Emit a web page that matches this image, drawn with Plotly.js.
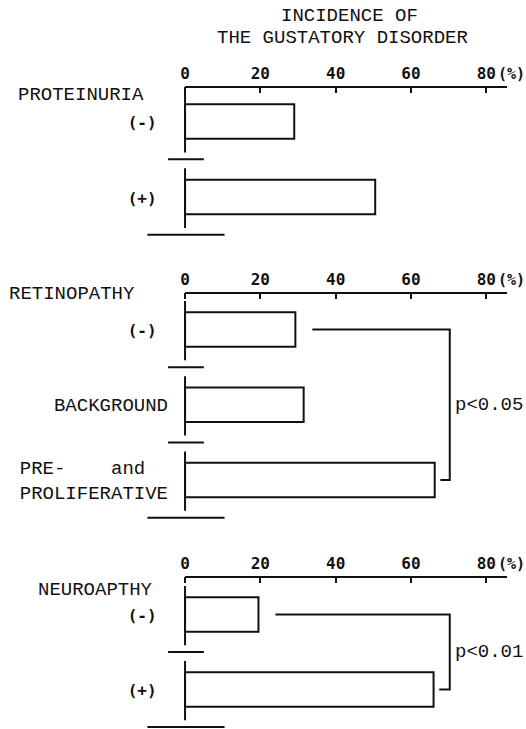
<!DOCTYPE html>
<html><head><meta charset="utf-8">
<script src="https://cdn.plot.ly/plotly-3.0.1.min.js"></script>
<style>html,body{margin:0;padding:0;background:#fff}</style>
</head><body><div id="chart" style="width:526px;height:729px"></div>
<script>
// ---- data ----
const chartTitleLines = ["INCIDENCE OF", "THE GUSTATORY DISORDER"];
const groupTitles = ["PROTEINURIA", "RETINOPATHY", "NEUROAPTHY"];
const proteinuriaCategories = ["(-)", "(+)"];
const proteinuriaValues = [29, 50.5];
const retinopathyCategories = ["(-)", "BACKGROUND", "PRE- and PROLIFERATIVE"];
const retinopathyValues = [29.3, 31.5, 66.3];
const neuropathyCategories = ["(-)", "(+)"];
const neuropathyValues = [19.5, 66];
const significance = ["", "p<0.05", "p<0.01"];
const tickValues = [0, 20, 40, 60, 80];
const tickLabels = ["0", "20", "40", "60", "80"];
const axisUnit = "(%)";

// ---- styling / layout ----
const W = 526, H = 729;
const INK = '#111111';
const MONO = 'Liberation Mono, Courier New, monospace';
const BOLDF = 'DejaVu Sans Mono, monospace';
const X_RANGE = [-10.5, 85.5];
const X_DOMAIN = [145.5 / W, 507 / W];
const BRACKET_X = 70.3;

function displayLabel(c) {
  if (c.charAt(0) === '(') {
    return '<span style="font-family:DejaVu Sans Mono;font-weight:bold;font-size:16px">' + c + '</span>\u00a0';
  }
  if (c.indexOf(' and ') >= 0) {
    const parts = c.split(' and ');
    return parts[0] + '\u00a0\u00a0\u00a0\u00a0and\u00a0\u00a0<br>' + parts[1];
  }
  return c;
}

const panels = [
  {cats: proteinuriaCategories, vals: proteinuriaValues, title: groupTitles[0], p: significance[0],
   topPx: 87, firstPx: 34.5, unitPx: 75.5, botPx: 242, titleX: 16, titleDy: 8},
  {cats: retinopathyCategories, vals: retinopathyValues, title: groupTitles[1], p: significance[1],
   topPx: 293, firstPx: 36.5, unitPx: 75.25, botPx: 525, titleX: 7, titleDy: 1},
  {cats: neuropathyCategories, vals: neuropathyValues, title: groupTitles[2], p: significance[2],
   topPx: 577, firstPx: 37.5, unitPx: 75, botPx: 729, titleX: 36, titleDy: 13}
];

const traces = [];
const shapes = [];
const annotations = [];
const layout = {
  width: W, height: H, autosize: false,
  margin: {l: 0, r: 0, t: 0, b: 0, pad: 0},
  paper_bgcolor: '#fff', plot_bgcolor: 'rgba(0,0,0,0)',
  showlegend: false,
  font: {family: MONO, color: INK, size: 19}
};

// title lines
const titleCenters = [[349, 16], [342, 37.5]];
chartTitleLines.forEach((t, i) => {
  annotations.push({xref: 'paper', yref: 'paper', x: titleCenters[i][0] / W, y: 1 - titleCenters[i][1] / H,
    xanchor: 'center', yanchor: 'middle', showarrow: false, text: t,
    font: {family: MONO, size: 19, color: INK}});
});

panels.forEach((pn, k) => {
  const s = k === 0 ? '' : String(k + 1);
  const xId = 'x' + s, yId = 'y' + s;
  const n = pn.cats.length;
  const rTop = -pn.firstPx / pn.unitPx;
  const rBot = rTop + (pn.botPx - pn.topPx) / pn.unitPx;

  layout['xaxis' + s] = {
    range: X_RANGE, domain: X_DOMAIN, anchor: yId, side: 'top',
    tickmode: 'array', tickvals: tickValues, ticktext: tickLabels,
    ticks: 'inside', ticklen: 6, tickwidth: 2, tickcolor: INK,
    tickfont: {family: BOLDF, size: 16, weight: 'bold', color: INK},
    ticklabelstandoff: 4,
    showgrid: false, zeroline: false, showline: false, fixedrange: true
  };
  layout['yaxis' + s] = {
    type: 'category', categoryorder: 'array', categoryarray: pn.cats,
    range: [rBot, rTop], domain: [1 - pn.botPx / H, 1 - pn.topPx / H],
    anchor: 'free', position: 168 / W,
    tickmode: 'array', tickvals: pn.cats, ticktext: pn.cats.map(displayLabel),
    ticks: '', tickfont: {family: MONO, size: 19, color: INK},
    showgrid: false, zeroline: false, showline: false, fixedrange: true
  };

  traces.push({
    type: 'bar', orientation: 'h', x: pn.vals, y: pn.cats,
    xaxis: xId, yaxis: yId, width: 0.46,
    marker: {color: '#ffffff', line: {color: INK, width: 2}},
    hoverinfo: 'x+y'
  });

  // top axis line from 0 to end
  shapes.push({type: 'line', xref: xId, yref: yId + ' domain', x0: 0, x1: X_RANGE[1], y0: 1, y1: 1,
    line: {color: INK, width: 2}});
  // base segments and separators
  pn.cats.forEach((c, i) => {
    shapes.push({type: 'line', xref: xId, yref: yId, x0: 0, x1: 0, y0: i - 0.38, y1: i + 0.41,
      line: {color: INK, width: 2}});
    const last = i === n - 1;
    shapes.push({type: 'line', xref: xId, yref: yId,
      x0: last ? -10 : -4.5, x1: last ? 10.5 : 5, y0: i + 0.5, y1: i + 0.5,
      line: {color: INK, width: 2}});
  });

  // unit label after the 80 tick
  annotations.push({xref: xId, yref: yId + ' domain', x: tickValues[tickValues.length - 1], y: 1,
    xanchor: 'left', yanchor: 'bottom', xshift: 10.5, yshift: 3, showarrow: false, borderpad: 0,
    text: axisUnit, font: {family: BOLDF, size: 15, weight: 'bold', color: INK}});
  // group title
  annotations.push({xref: 'paper', yref: yId + ' domain', x: pn.titleX / W, y: 1, yshift: -pn.titleDy,
    xanchor: 'left', yanchor: 'middle', showarrow: false, text: pn.title,
    font: {family: MONO, size: 19, color: INK}});

  if (pn.p) {
    const v0 = pn.vals[0], vL = pn.vals[n - 1];
    traces.push({
      type: 'scatter', mode: 'lines', xaxis: xId, yaxis: yId,
      x: [v0 + 4.5, BRACKET_X, BRACKET_X, vL + 1.5],
      y: [pn.cats[0], pn.cats[0], pn.cats[n - 1], pn.cats[n - 1]],
      line: {color: INK, width: 2}, hoverinfo: 'skip', cliponaxis: false
    });
    annotations.push({xref: xId, yref: yId, x: BRACKET_X, y: (n - 1) / 2, xanchor: 'left', yanchor: 'middle',
      xshift: 3, showarrow: false, text: pn.p, font: {family: MONO, size: 19, color: INK}});
  }
});

layout.shapes = shapes;
layout.annotations = annotations;
Plotly.newPlot('chart', traces, layout, {displayModeBar: false, staticPlot: true});
</script></body></html>
